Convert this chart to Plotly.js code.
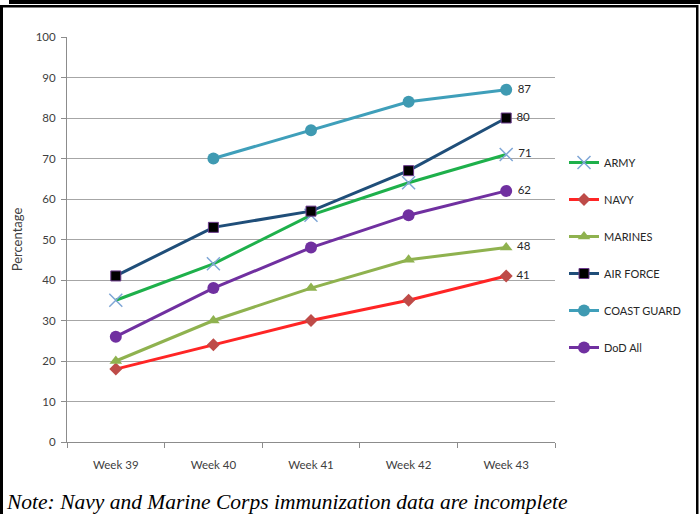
<!DOCTYPE html>
<html>
<head>
<meta charset="utf-8">
<script src="https://cdn.plot.ly/plotly-3.0.1.min.js"></script>
<style>
html,body{margin:0;padding:0;background:#fff;}
#chart{width:700px;height:514px;}
</style>
</head>
<body>
<div id="chart"></div>
<script>
var weeks = ["Week 39", "Week 40", "Week 41", "Week 42", "Week 43"];
var army = [35, 44, 56, 64, 71];
var navy = [18, 24, 30, 35, 41];
var marines = [20, 30, 38, 45, 48];
var airForce = [41, 53, 57, 67, 80];
var coastGuard = [null, 70, 77, 84, 87];
var dodAll = [26, 38, 48, 56, 62];
var yTicks = [0, 10, 20, 30, 40, 50, 60, 70, 80, 90, 100];
var noteText = "Note: Navy and Marine Corps immunization data are incomplete";

function lastLabel(arr) {
  return arr.map(function (v, i) { return i === arr.length - 1 ? "\u00a0" + v : ""; });
}

function series(name, vals, lineColor, symbol, mColor, mSize, mLine, mLineW, grp) {
  return {
    type: "scatter",
    mode: "lines+markers+text",
    name: name,
    x: weeks,
    y: vals,
    text: lastLabel(vals),
    textposition: "middle right",
    textfont: {family: "Lato, sans-serif", size: 11.5, color: "#262626"},
    line: {color: lineColor, width: 3},
    marker: {symbol: symbol, color: mColor, size: mSize, line: {color: mLine, width: mLineW}},
    legendgroup: grp,
    connectgaps: false,
    cliponaxis: false,
    hoverinfo: "x+y+name"
  };
}

var data = [
  series("ARMY", army, "#1EB04B", "x-thin-open", "#7FA6D6", 13, "#7FA6D6", 1.5, "a"),
  series("NAVY", navy, "#FF2525", "diamond", "#BE4B48", 10, "#BE4B48", 0, "b"),
  series("MARINES", marines, "#8FB24F", "triangle-up", "#8FB24F", 11, "#8FB24F", 0, "c"),
  series("AIR FORCE", airForce, "#1F4E79", "square", "#000000", 10, "#6B3A8C", 1, "d"),
  series("COAST GUARD", coastGuard, "#3F9FBA", "circle", "#3F9AB2", 12, "#3F9AB2", 0, "e"),
  series("DoD All", dodAll, "#7030A0", "circle", "#7030A0", 12, "#7030A0", 0, "f")
];

var W = 700, H = 514, L = 67, R = 145, T = 37, B = 72;
var pw = W - L - R, ph = H - T - B;
function px(x) { return (x - L) / pw; }
function py(y) { return (H - B - y) / ph; }

var shapes = [
  {type: "rect", xref: "paper", yref: "paper", x0: px(9), x1: px(700), y0: py(0), y1: py(4), fillcolor: "#000", line: {width: 0}, layer: "above"},
  {type: "rect", xref: "paper", yref: "paper", x0: px(0), x1: px(698), y0: py(5), y1: py(7.5), fillcolor: "#000", line: {width: 0}, layer: "above"},
  {type: "rect", xref: "paper", yref: "paper", x0: px(0), x1: px(3), y0: py(5), y1: py(514), fillcolor: "#000", line: {width: 0}, layer: "above"},
  {type: "rect", xref: "paper", yref: "paper", x0: px(696), x1: px(698.5), y0: py(5), y1: py(514), fillcolor: "#000", line: {width: 0}, layer: "above"}
];

var layout = {
  width: W, height: H,
  margin: {l: L, r: R, t: T, b: B, pad: 0},
  paper_bgcolor: "#ffffff",
  plot_bgcolor: "#ffffff",
  font: {family: "Lato, sans-serif", size: 11, color: "#404040"},
  showlegend: true,
  legend: {
    x: px(564), y: py(148), xanchor: "left", yanchor: "top",
    traceorder: "grouped", tracegroupgap: 18,
    font: {family: "Lato, sans-serif", size: 11, color: "#262626"},
    bgcolor: "rgba(0,0,0,0)", itemwidth: 30
  },
  xaxis: {
    type: "category",
    range: [-0.5, 4.5],
    showgrid: false,
    showline: true, linecolor: "#8c8c8c", linewidth: 1,
    ticks: "outside", ticklen: 5, tickcolor: "#8c8c8c",
    tickson: "boundaries",
    ticklabelstandoff: 12,
    tickfont: {size: 11.5, color: "#404040"},
    zeroline: false,
    fixedrange: true
  },
  yaxis: {
    range: [0, 100],
    tickvals: yTicks,
    ticktext: yTicks.map(String),
    showgrid: true, gridcolor: "#a6a6a6", gridwidth: 1,
    showline: true, linecolor: "#8c8c8c", linewidth: 1,
    ticks: "outside", ticklen: 5, tickcolor: "#8c8c8c",
    ticklabelstandoff: 3,
    tickfont: {size: 11.5, color: "#404040"},
    zeroline: false,
    title: {text: "Percentage", font: {size: 13, color: "#404040"}, standoff: 10},
    fixedrange: true
  },
  shapes: shapes,
  annotations: [{
    xref: "paper", yref: "paper",
    x: px(4), y: py(502), xanchor: "left", yanchor: "middle",
    text: "<i>" + noteText + "</i>",
    showarrow: false,
    font: {family: "Liberation Serif, Times New Roman, serif", size: 21.5, color: "#000"}
  }]
};

Plotly.newPlot("chart", data, layout, {displayModeBar: false, staticPlot: true});
</script>
</body>
</html>
